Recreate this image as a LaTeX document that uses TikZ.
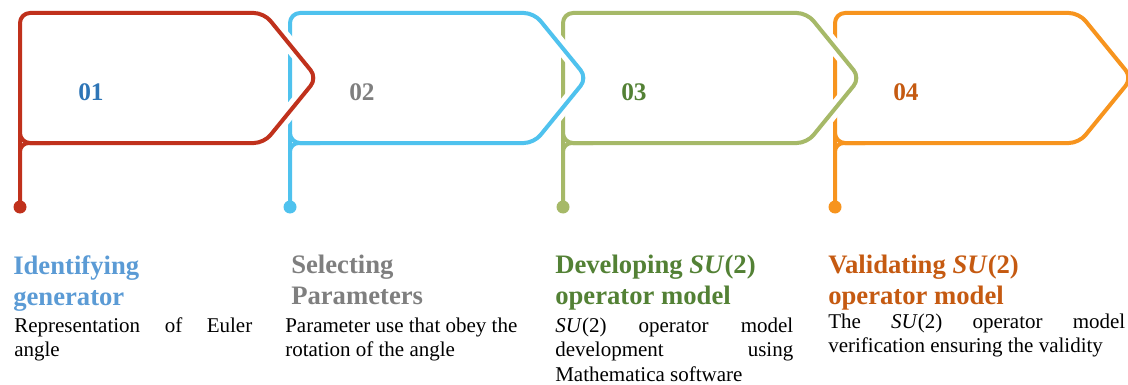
\documentclass[tikz,border=0pt]{standalone}
\usepackage{fontspec}
\setmainfont{Liberation Serif}

\definecolor{flagred}{HTML}{C0311C}
\definecolor{flagblue}{HTML}{4FC2EE}
\definecolor{flaggreen}{HTML}{A6B968}
\definecolor{flagorange}{HTML}{F7941E}
\definecolor{numblue}{HTML}{2E75B6}
\definecolor{numgray}{HTML}{7F7F7F}
\definecolor{numgreen}{HTML}{538135}
\definecolor{numorange}{HTML}{C55A11}
\definecolor{titleblue}{HTML}{5B9BD5}

\tikzset{
  flagline/.style={draw=#1, line width=3pt, line join=round, line cap=round},
  halo/.style={draw=white, line width=10.5pt, line join=round},
  numlabel/.style={anchor=base west, inner sep=0pt, font=\fontsize{19}{22}\selectfont\bfseries},
  steptitle/.style={anchor=north west, inner sep=0pt, align=left,
    font=\fontsize{20}{23.25}\selectfont\bfseries},
  stepbody/.style={anchor=north west, inner sep=0pt, align=left,
    font=\fontsize{15.75}{18.5}\selectfont},
}

\begin{document}
\begin{tikzpicture}[x=0.75pt, y=-0.75pt]
\useasboundingbox (0,0) rectangle (1128,385);

% flags, back to front: each one is laid over the left edge of the next
\foreach \L/\c in {835/flagorange, 563/flaggreen, 290/flagblue, 20/flagred}{
  \draw[halo, rounded corners=7.5pt]
    (\L,78) -- (\L,13) -- (\L+244,13) -- (\L+297,78) -- (\L+244,143) -- (\L,143) -- cycle;
  \draw[flagline=\c, rounded corners=7.5pt]
    (\L,78) -- (\L,13) -- (\L+244,13) -- (\L+297,78) -- (\L+244,143) -- (\L,143) -- cycle;
  % pole with its fillet and end dot
  \draw[flagline=\c] (\L,120) -- (\L,207);
  \draw[flagline=\c, rounded corners=6.5pt] (\L,207) -- (\L,143) -- (\L+30,143);
  \fill[\c] (\L,207) circle (6.5);
}

% step numbers
\node[numlabel, text=numblue]   (num1) at (78,100)  {01};
\node[numlabel, text=numgray]   (num2) at (349,100) {02};
\node[numlabel, text=numgreen]  (num3) at (621,100) {03};
\node[numlabel, text=numorange] (num4) at (893,100) {04};

% step titles
\node[steptitle, text=titleblue] (title1) at (13,252.5)
  {\strut Identifying\\generator};
\node[steptitle, text=numgray] (title2) at (291,251.8)
  {\strut Selecting\\Parameters};
\node[steptitle, text=numgreen] (title3) at (555,251.8)
  {\strut Developing \textit{SU}(2)\\operator model};
\node[steptitle, text=numorange] (title4) at (828,251.8)
  {\strut Validating \textit{SU}(2)\\operator model};

% step descriptions
\node[stepbody] (body1) at (14,314.7)
  {\strut\makebox[178.5pt][s]{Representation of Euler}\\angle};
\node[stepbody] (body2) at (285,314.7)
  {\strut Parameter use that obey the\\rotation of the angle};
\node[stepbody] (body3) at (555,314.7)
  {\strut\makebox[178.5pt][s]{\textit{SU}(2) operator model}\\
   \makebox[178.5pt][s]{development using}\\Mathematica software};
\node[stepbody] (body4) at (828,310.7)
  {\strut\makebox[222.75pt][s]{The \textit{SU}(2) operator model}\\
   verification ensuring the validity};
\end{tikzpicture}
\end{document}
